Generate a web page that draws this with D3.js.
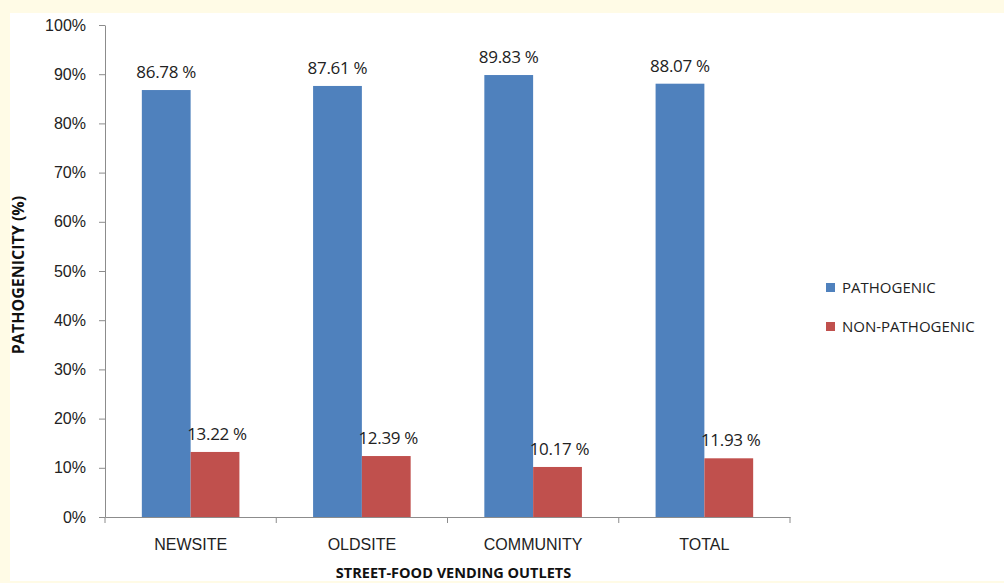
<!DOCTYPE html>
<html>
<head>
<meta charset="utf-8">
<script src="https://cdn.jsdelivr.net/npm/d3@7"></script>
<style>
  body { margin: 0; background: #fffbe6; }
  svg { display: block; }
</style>
</head>
<body>
<div id="chart"></div>
<script>
// data
const outlets = ["NEWSITE", "OLDSITE", "COMMUNITY", "TOTAL"];
const groups = ["PATHOGENIC", "NON-PATHOGENIC"];
const pathogenic = [86.78, 87.61, 89.83, 88.07];
const nonPathogenic = [13.22, 12.39, 10.17, 11.93];
const yTicks = [0, 10, 20, 30, 40, 50, 60, 70, 80, 90, 100];
const colors = ["#4f81bd", "#c0504d"];

const W = 1004, H = 583;
const margin = {top: 25, right: 214, bottom: 66, left: 105};
const width = W - margin.left - margin.right,
      height = H - margin.top - margin.bottom;

const svg = d3.select("#chart").append("svg")
  .attr("width", W).attr("height", H)
  .style("font-family", "'Open Sans', sans-serif");

// white plot panel over the cream page
svg.append("rect")
  .attr("x", 10).attr("y", 13)
  .attr("width", W - 10).attr("height", 568)
  .attr("fill", "#fff");

const g = svg.append("g")
  .attr("transform", `translate(${margin.left}, ${margin.top})`);

const x0 = d3.scaleBand().domain(outlets).range([0, width]).paddingInner(0).paddingOuter(0);
const x1 = d3.scaleBand().domain(groups).range([0, x0.bandwidth()]).paddingOuter(0.755);
const y = d3.scaleLinear().domain([0, 100]).range([height, 0]);

// y axis
const yAxis = g.append("g")
  .call(d3.axisLeft(y).tickValues(yTicks).tickFormat(d => d + "%").tickSize(6).tickSizeOuter(0));
yAxis.select(".domain").attr("stroke", "#8c8c8c");
yAxis.selectAll(".tick line").attr("stroke", "#8c8c8c");
yAxis.selectAll("text").attr("font-size", 16).attr("fill", "#222").attr("x", -19);

// bars
const rows = outlets.map((o, i) => ({outlet: o, vals: [pathogenic[i], nonPathogenic[i]]}));
const grp = g.selectAll(".grp").data(rows).join("g")
  .attr("transform", d => `translate(${x0(d.outlet)}, 0)`);

grp.selectAll("rect")
  .data(d => d.vals.map((v, j) => ({key: groups[j], v: v, j: j})))
  .join("rect")
  .attr("x", d => x1(d.key))
  .attr("y", d => y(d.v))
  .attr("width", x1.bandwidth())
  .attr("height", d => height - y(d.v))
  .attr("fill", d => colors[d.j]);

grp.selectAll(".lbl")
  .data(d => d.vals.map((v, j) => ({key: groups[j], v: v, j: j})))
  .join("text")
  .attr("x", d => x1(d.key) + x1.bandwidth() / 2 + (d.j ? 2 : 0))
  .attr("y", d => y(d.v) - 12)
  .attr("text-anchor", "middle")
  .attr("font-size", 17)
  .attr("letter-spacing", "-0.3")
  .attr("fill", "#222")
  .text(d => d.v.toFixed(2) + " %");

// x axis
const xAxis = g.append("g")
  .attr("transform", `translate(0, ${height})`)
  .call(d3.axisBottom(x0).tickSize(0).tickSizeOuter(0));
xAxis.select(".domain").attr("stroke", "#8c8c8c");
xAxis.selectAll("text").attr("font-size", 16).attr("fill", "#222").attr("dy", "1.9em");
// category boundary ticks
xAxis.selectAll(".sep").data(d3.range(outlets.length + 1)).join("line")
  .attr("x1", i => i * x0.bandwidth()).attr("x2", i => i * x0.bandwidth())
  .attr("y1", 0).attr("y2", 6)
  .attr("stroke", "#8c8c8c");

// axis titles
svg.append("text")
  .attr("transform", `translate(24, ${margin.top + height / 2 + 4}) rotate(-90)`)
  .attr("text-anchor", "middle")
  .attr("font-size", 16).attr("font-weight", "bold").attr("fill", "#111")
  .text("PATHOGENICITY (%)");

svg.append("text")
  .attr("x", margin.left + width / 2 + 6).attr("y", 578)
  .attr("text-anchor", "middle")
  .attr("font-size", 14.5).attr("font-weight", "bold").attr("fill", "#111")
  .text("STREET-FOOD VENDING OUTLETS");

// legend
const legend = svg.append("g").attr("transform", "translate(826, 283)");
const item = legend.selectAll("g").data(groups).join("g")
  .attr("transform", (d, i) => `translate(0, ${i * 39})`);
item.append("rect").attr("width", 9).attr("height", 9).attr("fill", (d, i) => colors[i]);
item.append("text").attr("x", 16).attr("y", 10)
  .attr("font-size", 15).attr("fill", "#222").text(d => d);
</script>
</body>
</html>
